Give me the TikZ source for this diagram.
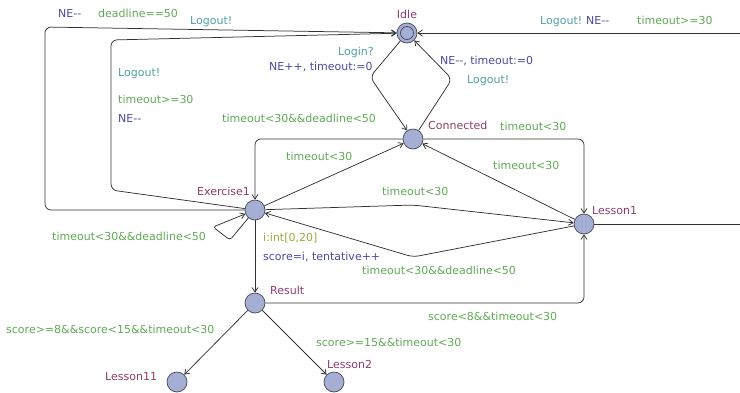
\documentclass[tikz,border=0pt]{standalone}
\usepackage{fontspec}
\setmainfont{DejaVu Sans}
\usetikzlibrary{arrows.meta}

\definecolor{locname}{RGB}{140,60,110}
\definecolor{guardc}{RGB}{95,170,85}
\definecolor{syncc}{RGB}{80,160,165}
\definecolor{updc}{RGB}{75,75,160}
\definecolor{selc}{RGB}{165,165,60}
\definecolor{locfill}{RGB}{165,175,212}
\definecolor{locdraw}{RGB}{70,70,90}
\definecolor{edgec}{RGB}{50,50,50}

\begin{document}
\begin{tikzpicture}[x=1pt,y=-1pt,
  locst/.style={circle,draw=locdraw,fill=locfill,line width=0.7pt,minimum size=20pt,inner sep=0pt},
  txt/.style={inner sep=0pt,font=\fontsize{11}{12}\selectfont,text height=8pt,text depth=2pt},
  lname/.style={txt,text=locname,anchor=west},
  gtxt/.style={txt,text=guardc,anchor=west},
  stxt/.style={txt,text=syncc,anchor=west},
  utxt/.style={txt,text=updc,anchor=west},
  seltxt/.style={txt,text=selc,anchor=west},
  line/.style={draw=edgec,line width=0.75pt,rounded corners=6pt},
  trans/.style={line,-{Straight Barb[length=4.5pt,width=6pt]}}
]
\useasboundingbox (0,0) rectangle (740,392);
\clip (0,0) rectangle (740,392);

% locations
\node[locst] (idle) at (407,33) {};
\draw[locdraw,line width=0.7pt] (idle.center) circle (6.5);
\node[locst] (conn) at (413,139) {};
\node[locst] (ex1)  at (255,210) {};
\node[locst] (les1) at (584,224) {};
\node[locst] (res)  at (255,303) {};
\node[locst] (les11) at (177,382) {};
\node[locst] (les2) at (334,382) {};

% location names
\node[txt,text=locname] (nidle) at (407,15) {Idle};
\node[lname] (nconn) at (428,126) {Connected};
\node[lname] (nex1) at (197,192) {Exercise1};
\node[lname] (nles1) at (592,211) {Lesson1};
\node[lname] (nres) at (270,291) {Result};
\node[lname] (nles11) at (105,377) {Lesson11};
\node[lname] (nles2) at (327,365) {Lesson2};

% off-page ends of the Lesson1 -> Idle transition
\coordinate (eastout) at (745,224);
\coordinate (eastin) at (745,33);

% transitions
\draw[trans] (ex1) -- (45,210) -- (45,27) -- (idle);
\draw[trans] (ex1) -- (111,190) -- (111,40) -- (idle);
\draw[trans] (idle) -- (370,77) -- (conn);
\draw[trans] (conn) -- (452,79) -- (idle);
\draw[line] (les1) -- (eastout);
\draw[trans] (eastin) -- (idle);
\draw[trans] (conn) -- (255,139) -- (ex1);
\draw[trans] (conn) -- (584,139) -- (les1);
\draw[trans] (ex1) -- (conn);
\draw[trans] (les1) -- (conn);
\draw[trans] (ex1) -- (413,205) -- (les1);
\draw[trans] (les1) -- (413,257) -- (ex1);
\draw[trans,rounded corners=3pt] (ex1) -- (230,240) -- (213,227) -- (ex1);
\draw[trans] (ex1) -- (res);
\draw[trans] (res) -- (584,303) -- (les1);
\draw[trans] (res) -- (les11);
\draw[trans] (res) -- (les2);

% transition labels
\node[utxt] (u1) at (58,14) {NE-{}-};
\node[gtxt] (g1) at (98,14) {deadline==50};
\node[stxt] (s1) at (190,21) {Logout!};

\node[stxt] (s2) at (118,73) {Logout!};
\node[gtxt] (g2) at (118,100) {timeout>=30};
\node[utxt] (u2) at (118,119) {NE-{}-};

\node[stxt] (s3) at (338,52) {Login?};
\node[utxt] (u3) at (269,67) {NE++, timeout:=0};

\node[utxt] (u4) at (440,61) {NE-{}-, timeout:=0};
\node[stxt] (s4) at (467,80) {Logout!};

\node[stxt] (s5) at (540,21) {Logout!};
\node[utxt] (u5) at (586,21) {NE-{}-};
\node[gtxt] (g5) at (637,21) {timeout>=30};

\node[gtxt] (g6) at (222,119) {timeout<30\&\&deadline<50};
\node[gtxt] (g7) at (500,127) {timeout<30};
\node[gtxt] (g8) at (286,157) {timeout<30};
\node[gtxt] (g9) at (493,166) {timeout<30};
\node[gtxt] (g10) at (382,192) {timeout<30};
\node[gtxt] (g11) at (52,237) {timeout<30\&\&deadline<50};
\node[seltxt] (sel1) at (263,238) {i:int[0,20]};
\node[utxt] (u6) at (263,257) {score=i, tentative++};
\node[gtxt] (g12) at (362,271) {timeout<30\&\&deadline<50};
\node[gtxt] (g13) at (428,317) {score<8\&\&timeout<30};
\node[gtxt] (g14) at (6,330) {score>=8\&\&score<15\&\&timeout<30};
\node[gtxt] (g15) at (316,343) {score>=15\&\&timeout<30};
\end{tikzpicture}
\end{document}
